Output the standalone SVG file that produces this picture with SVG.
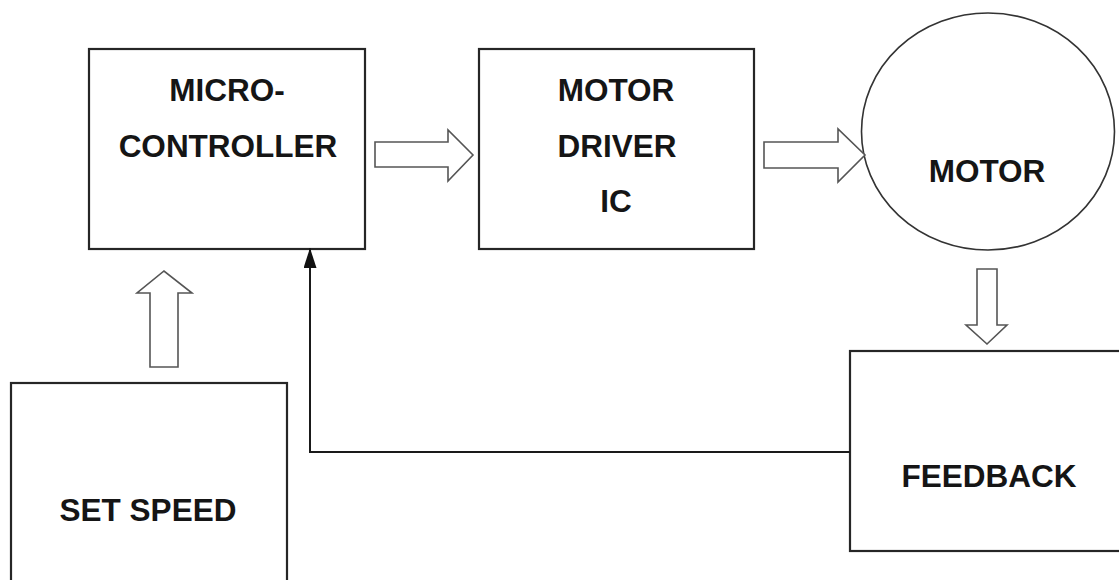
<svg xmlns="http://www.w3.org/2000/svg" width="1119" height="580" viewBox="0 0 1119 580">
<style>
.box{fill:#fff;stroke:#262626;stroke-width:2.2}
.blk{fill:#fff;stroke:#555;stroke-width:1.6;stroke-linejoin:miter}
.lbl{font-family:"Liberation Sans",Arial,sans-serif;font-weight:bold;font-size:31.5px;fill:#151515;text-anchor:middle}
.ln{fill:none;stroke:#1a1a1a;stroke-width:2}
</style>
<defs>
<marker id="ah" viewBox="0 0 20 13" refX="20" refY="6.5" markerWidth="20" markerHeight="13" markerUnits="userSpaceOnUse" orient="auto">
<path d="M0,0 L20,6.5 L0,13 Z" fill="#111"/>
</marker>
</defs>
<rect width="1119" height="580" fill="#fff"/>
<g id="microcontroller">
<rect class="box" x="89" y="49" width="276" height="200"/>
<text class="lbl" x="227" y="101">MICRO-</text>
<text class="lbl" x="228" y="157">CONTROLLER</text>
</g>
<g id="motor-driver">
<rect class="box" x="479" y="49" width="275" height="200"/>
<text class="lbl" x="616" y="101">MOTOR</text>
<text class="lbl" x="617" y="157">DRIVER</text>
<text class="lbl" x="616" y="212">IC</text>
</g>
<g id="motor">
<ellipse cx="988" cy="131.5" rx="126.5" ry="118.5" fill="#fff" stroke="#333" stroke-width="1.6"/>
<text class="lbl" x="987" y="182">MOTOR</text>
</g>
<g id="set-speed">
<rect class="box" x="11" y="383" width="276" height="220"/>
<text class="lbl" x="148" y="521">SET SPEED</text>
</g>
<g id="feedback">
<rect class="box" x="850" y="351" width="290" height="200"/>
<text class="lbl" x="989" y="487">FEEDBACK</text>
</g>
<g id="connectors">
<path class="blk" d="M375,142 L448,142 L448,130 L473,155 L448,181 L448,167 L375,167 Z"/>
<path class="blk" d="M764,142 L838,142 L838,129 L865,155 L838,182 L838,168 L764,168 Z"/>
<path class="blk" d="M977,269 L997,269 L997,325 L1007,325 L987,344 L966,325 L977,325 Z"/>
<path class="blk" d="M150,367 L178,367 L178,293 L192,293 L164,271 L137,293 L150,293 Z"/>
<path class="ln" d="M850,452 L310,452 L310,248" marker-end="url(#ah)"/>
</g>
</svg>
